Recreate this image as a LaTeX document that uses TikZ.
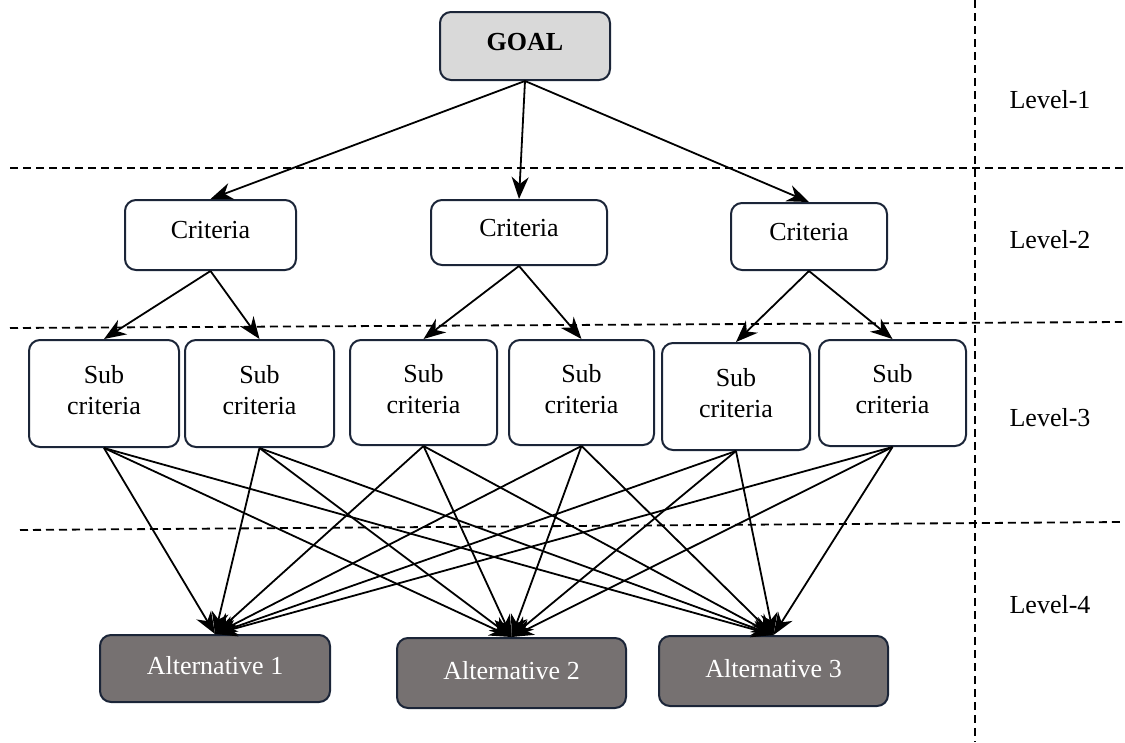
\documentclass[tikz,border=0pt]{standalone}
\usepackage{fontspec}
\setmainfont{Liberation Serif}
\usetikzlibrary{arrows.meta}
\definecolor{bordc}{HTML}{1B2538}
\definecolor{goalc}{HTML}{D9D9D9}
\definecolor{altc}{HTML}{767171}
\tikzset{
  box/.style={draw=bordc, line width=2pt, rounded corners=11pt, inner sep=0pt, align=center,
    font=\fontsize{26}{31}\selectfont, text depth=8pt},
  goalbox/.style={box, fill=goalc, font=\fontsize{26}{30}\selectfont\bfseries},
  altbox/.style={box, fill=altc, text=white, text depth=6pt},
  conn/.style={line width=1.8pt, -{Stealth[length=22pt,width=17pt,inset=7pt]}},
  sep/.style={dash pattern=on 8pt off 5pt, line width=1.8pt},
  lvl/.style={font=\fontsize{26}{30}\selectfont}
}
\begin{document}
\begin{tikzpicture}[x=1pt,y=-1pt]
\useasboundingbox (0,0) rectangle (1125,742);
% separators
\coordinate (v1) at (975,0);
\coordinate (v2) at (975,742);
\draw[sep] (v1) -- (v2);
\coordinate (h1a) at (10,168);
\coordinate (h1b) at (1125,168);
\draw[sep] (h1a) -- (h1b);
\coordinate (h2a) at (10,328);
\coordinate (h2b) at (1122,322);
\draw[sep] (h2a) -- (h2b);
\coordinate (h3a) at (20,530);
\coordinate (h3b) at (1122,522);
\draw[sep] (h3a) -- (h3b);
% level labels
\node[lvl] (l1) at (1050,100) {Level-1};
\node[lvl] (l2) at (1050,240) {Level-2};
\node[lvl] (l3) at (1050,418) {Level-3};
\node[lvl] (l4) at (1050,605) {Level-4};
% nodes
\node[goalbox, minimum width=170pt, minimum height=68pt] (g) at (525,46) {GOAL};
\node[box, minimum width=171pt, minimum height=70pt, text depth=10pt] (c1) at (210.5,235) {Criteria};
\node[box, minimum width=176pt, minimum height=65pt, text depth=9pt] (c2) at (519,232.5) {Criteria};
\node[box, minimum width=156pt, minimum height=67pt, text depth=9pt] (c3) at (809,236.5) {Criteria};
\node[box, minimum width=150pt, minimum height=107pt] (s1) at (104,393.5) {Sub\\criteria};
\node[box, minimum width=149pt, minimum height=107pt] (s2) at (259.5,393.5) {Sub\\criteria};
\node[box, minimum width=147pt, minimum height=105pt] (s3) at (423.5,392.5) {Sub\\criteria};
\node[box, minimum width=145pt, minimum height=105pt] (s4) at (581.5,392.5) {Sub\\criteria};
\node[box, minimum width=148pt, minimum height=107pt] (s5) at (736,396.5) {Sub\\criteria};
\node[box, minimum width=147pt, minimum height=106pt] (s6) at (892.5,393) {Sub\\criteria};
\node[altbox, minimum width=230pt, minimum height=67pt] (a1) at (215,668.5) {Alternative 1};
\node[altbox, minimum width=229pt, minimum height=70pt] (a2) at (511.5,673) {Alternative 2};
\node[altbox, minimum width=229pt, minimum height=70pt] (a3) at (773.5,671) {Alternative 3};
% connectors
\foreach \c in {c1,c2,c3} \draw[conn] (g.south) -- (\c.north);
\draw[conn] (c1.south) -- (s1.north);
\draw[conn] (c1.south) -- (s2.north);
\draw[conn] (c2.south) -- (s3.north);
\draw[conn] (c2.south) -- (s4.north);
\draw[conn] (c3.south) -- (s5.north);
\draw[conn] (c3.south) -- (s6.north);
\foreach \s in {s1,s2,s3,s4,s5,s6}
  \foreach \a in {a1,a2,a3}
    \draw[conn] (\s.south) -- (\a.north);
\end{tikzpicture}
\end{document}
